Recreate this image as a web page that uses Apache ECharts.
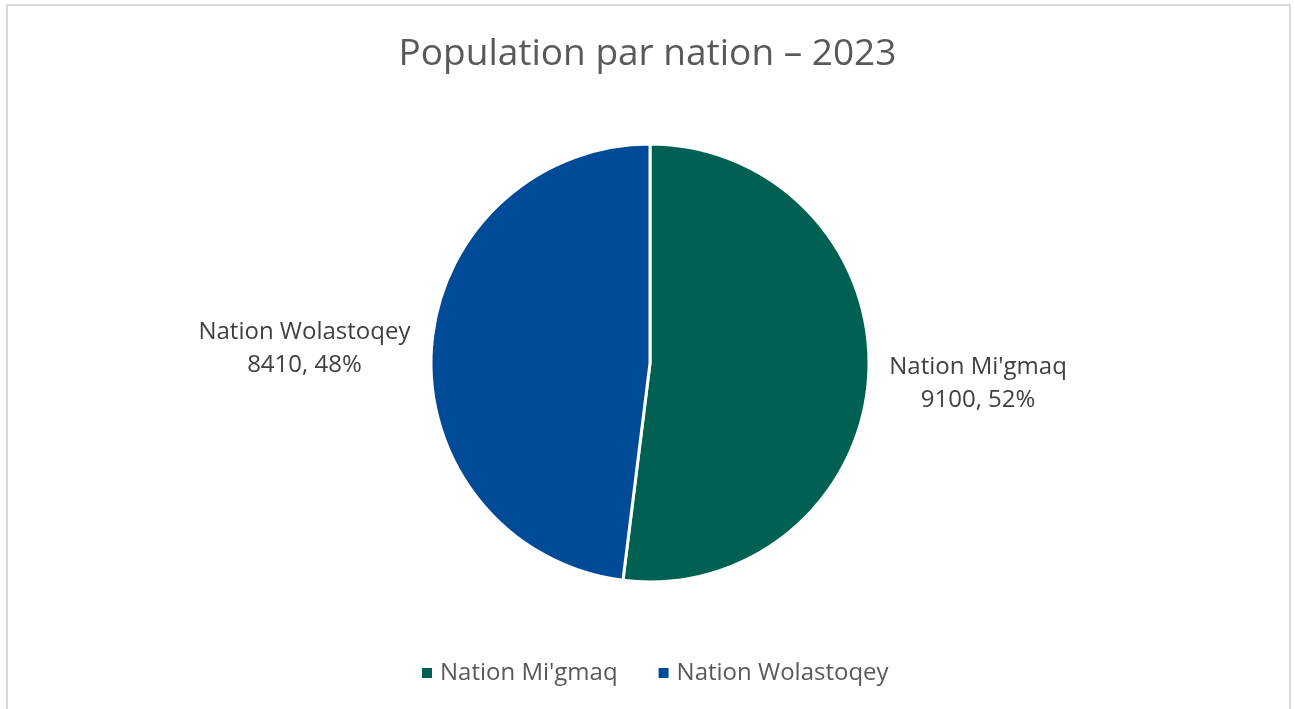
<!DOCTYPE html>
<html>
<head>
<meta charset="utf-8">
<script src="https://cdn.jsdelivr.net/npm/echarts@6/dist/echarts.min.js"></script>
<style>
  html, body { margin: 0; padding: 0; background: #fff; }
  #frame { position: absolute; left: 6px; top: 4px; width: 1285px; height: 720px; border: 2px solid #d9d9d9; border-bottom: none; box-sizing: border-box; }
  #chart { position: absolute; left: 0; top: 0; width: 1295px; height: 709px; }
</style>
</head>
<body>
<div id="frame"></div>
<div id="chart"></div>
<script>
const titleText = 'Population par nation – 2023';
const categories = ["Nation Mi'gmaq", 'Nation Wolastoqey'];
const values = [9100, 8410];
const colors = ['#006152', '#004B98'];

const chart = echarts.init(document.getElementById('chart'));
const fontFamily = '"Open Sans", "Noto Sans", sans-serif';
const labelBoxWidths = [177, 212];
const labelPads = [[12, 0, 0, 0], [0, 0, 0, 0]];

chart.setOption({
  animation: false,
  title: {
    text: titleText,
    left: 'center',
    top: 31,
    textStyle: { fontFamily, fontSize: 37, fontWeight: 'normal', color: '#595959' }
  },
  legend: {
    data: categories,
    bottom: 19,
    left: 417,
    icon: 'path://M0,0h10v10h-10z M13,5h0',
    itemWidth: 13,
    itemHeight: 10,
    itemGap: 41,
    itemStyle: { borderWidth: 0 },
    textStyle: { fontFamily, fontSize: 24, color: '#595959' }
  },
  series: [{
    type: 'pie',
    center: [650, 363],
    radius: [0, 219],
    startAngle: 90,
    clockwise: true,
    avoidLabelOverlap: false,
    itemStyle: { borderColor: '#ffffff', borderWidth: 3 },
    labelLine: { show: false, length: 10, length2: 6 },
    label: {
      show: true,
      position: 'outside',
      distanceToLabelLine: 5,
      formatter: p => '{a|' + p.name + '}\n{a|' + p.value + ', ' + Math.round(p.percent) + '%}',
      rich: {
        a: { fontFamily, fontSize: 24, color: '#404040', width: 212, align: 'center', lineHeight: 33 }
      }
    },
    data: categories.map((c, i) => ({
      name: c,
      value: values[i],
      itemStyle: { color: colors[i] },
      label: {
        padding: labelPads[i],
        rich: { a: { fontFamily, fontSize: 24, color: '#404040', width: labelBoxWidths[i], align: 'center', lineHeight: 33 } }
      }
    }))
  }]
});
</script>
</body>
</html>
